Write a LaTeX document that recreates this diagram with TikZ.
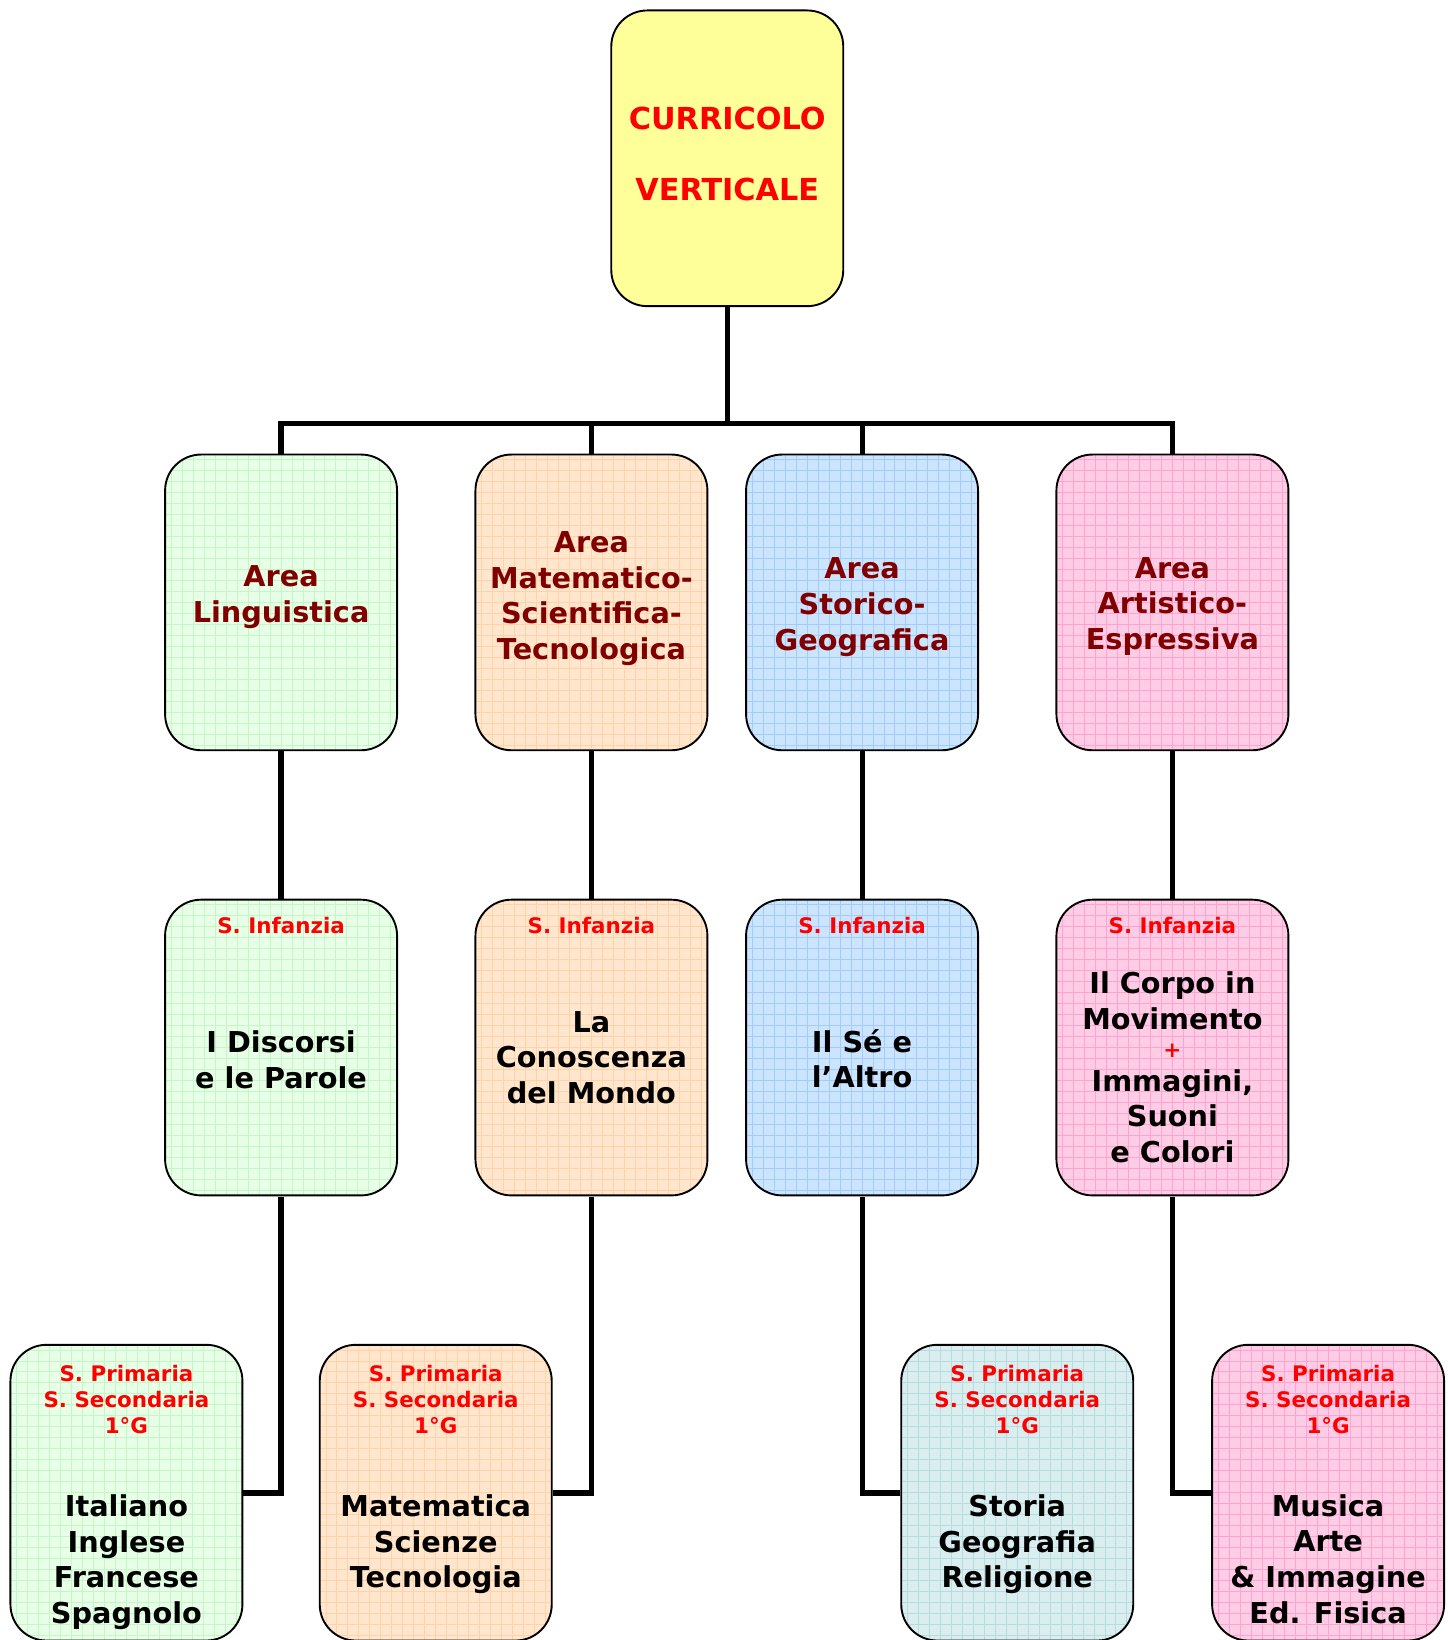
\documentclass[tikz,border=0pt]{standalone}
\usepackage{fontspec}
\setmainfont{DejaVu Sans}
\definecolor{darkred}{HTML}{800000}
\definecolor{yel}{HTML}{FFFF99}
\definecolor{gfill}{HTML}{E6FFE6}\definecolor{ggrid}{HTML}{C6F5C6}
\definecolor{ofill}{HTML}{FFE6CC}\definecolor{ogrid}{HTML}{FFD2AA}
\definecolor{bfill}{HTML}{CCE5FF}\definecolor{bgrid}{HTML}{A4CCFA}
\definecolor{pfill}{HTML}{FFCCE6}\definecolor{pgrid}{HTML}{FFA3D1}
\definecolor{tfill}{HTML}{DAEEF0}\definecolor{tgrid}{HTML}{B6DCE0}
\tikzset{
  box/.style={draw=black, line width=1.9pt, rounded corners=36pt,
    minimum width=222pt, minimum height=283pt, inner sep=0pt},
  gridbox/.style 2 args={box, fill=#1,
    path picture={\draw[#2, line width=1pt]
      (path picture bounding box.south west) grid[step=10.5pt]
      (path picture bounding box.north east);}},
  conn/.style={line width=5.3pt},
  ttl/.style={text=red, font=\bfseries\fontsize{29}{68}\selectfont, align=center, inner sep=0pt},
  area/.style={text=darkred, font=\bfseries\fontsize{27.5}{34}\selectfont, align=center, inner sep=0pt},
  lab/.style={text=red, font=\bfseries\fontsize{20.5}{25}\selectfont, align=center, inner sep=0pt},
  subj/.style={text=black, font=\bfseries\fontsize{27.5}{34}\selectfont, align=center, inner sep=0pt},
}
\begin{document}
\begin{tikzpicture}[x=1pt,y=-1pt,scale=1.0449,transform shape]
\useasboundingbox[fill=white] (0,0) rectangle (1384.8,1569.5);
% boxes
\node[box, fill=yel] (top) at (696,151.5) {};
\node[gridbox={gfill}{ggrid}] (a1) at (269,576.5) {};
\node[gridbox={ofill}{ogrid}] (a2) at (566,576.5) {};
\node[gridbox={bfill}{bgrid}] (a3) at (825,576.5) {};
\node[gridbox={pfill}{pgrid}] (a4) at (1122,576.5) {};
\node[gridbox={gfill}{ggrid}] (b1) at (269,1002.5) {};
\node[gridbox={ofill}{ogrid}] (b2) at (566,1002.5) {};
\node[gridbox={bfill}{bgrid}] (b3) at (825,1002.5) {};
\node[gridbox={pfill}{pgrid}] (b4) at (1122,1002.5) {};
\node[gridbox={gfill}{ggrid}] (c1) at (121,1428.5) {};
\node[gridbox={ofill}{ogrid}] (c2) at (417,1428.5) {};
\node[gridbox={tfill}{tgrid}] (c3) at (973.5,1428.5) {};
\node[gridbox={pfill}{pgrid}] (c4) at (1271,1428.5) {};
% connectors
\coordinate (bus) at (0,405);
\draw[conn] (top.south) -- (top.south |- bus);
\draw[conn] (a1.north) -- (a1.north |- bus) -- (a4.north |- bus) -- (a4.north);
\draw[conn] (a2.north) -- (a2.north |- bus);
\draw[conn] (a3.north) -- (a3.north |- bus);
\draw[conn] (a1.south) -- (b1.north);
\draw[conn] (a2.south) -- (b2.north);
\draw[conn] (a3.south) -- (b3.north);
\draw[conn] (a4.south) -- (b4.north);
\draw[conn] (b1.south) |- (c1.east);
\draw[conn] (b2.south) |- (c2.east);
\draw[conn] (b3.south) |- (c3.west);
\draw[conn] (b4.south) |- (c4.west);
% texts
\node[ttl] (ttop) at (696,147) {CURRICOLO\\VERTICALE};
\node[area] (ta1) at (269,571.5) {Area\\Linguistica};
\node[area] (ta2) at (566,573) {Area\\Matematico-\\Scientifica-\\Tecnologica};
\node[area] (ta3) at (825,581) {Area\\Storico-\\Geografica};
\node[area] (ta4) at (1122,580) {Area\\Artistico-\\Espressiva};
\node[lab] (lb1) at (269,886) {S. Infanzia};
\node[lab] (lb2) at (566,886) {S. Infanzia};
\node[lab] (lb3) at (825,886) {S. Infanzia};
\node[lab] (lb4) at (1122,886) {S. Infanzia};
\node[subj] (tb1) at (269,1014) {I Discorsi\\e le Parole};
\node[subj] (tb2) at (566,1012) {La\\Conoscenza\\del Mondo};
\node[subj] (tb3) at (825,1013) {Il Sé e\\l’Altro};
\node[subj] (tb4a) at (1122,958) {Il Corpo in\\Movimento};
\node[lab] (tb4p) at (1122,1006) {+};
\node[subj] (tb4b) at (1122,1068) {Immagini,\\Suoni\\e Colori};
\node[lab] (lc1) at (121,1339) {S. Primaria\\S. Secondaria\\1°G};
\node[lab] (lc2) at (417,1339) {S. Primaria\\S. Secondaria\\1°G};
\node[lab] (lc3) at (973.5,1339) {S. Primaria\\S. Secondaria\\1°G};
\node[lab] (lc4) at (1271,1339) {S. Primaria\\S. Secondaria\\1°G};
\node[subj] (tc1) at (121,1495) {Italiano\\Inglese\\Francese\\Spagnolo};
\node[subj] (tc2) at (417,1478) {Matematica\\Scienze\\Tecnologia};
\node[subj] (tc3) at (973.5,1478) {Storia\\Geografia\\Religione};
\node[subj] (tc4) at (1271,1492) {Musica\\Arte\\\& Immagine\\Ed. Fisica};
\end{tikzpicture}
\end{document}
